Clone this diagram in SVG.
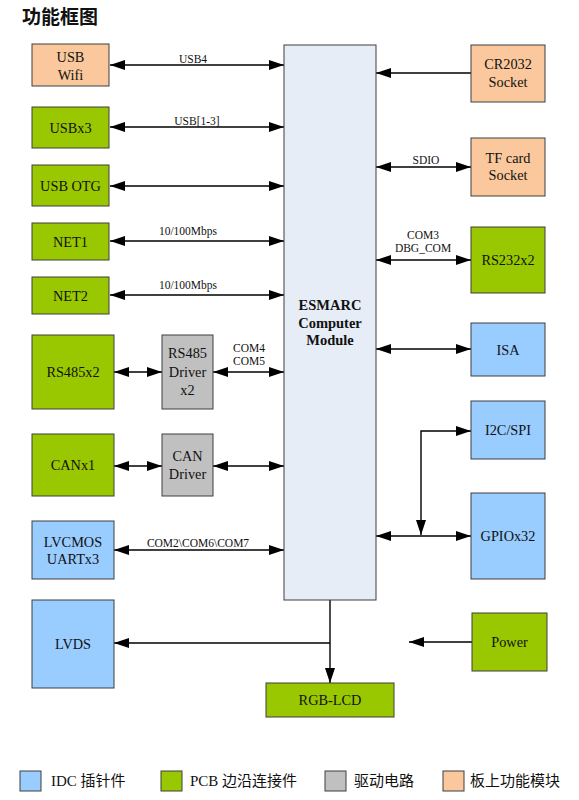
<svg xmlns="http://www.w3.org/2000/svg" width="579" height="800" viewBox="0 0 579 800">
<style>
.box{stroke:#3f3f3f;stroke-width:1}
.peach{fill:#fac89c}
.green{fill:#99c800}
.blue{fill:#99ccff}
.gray{fill:#c0c0c0}
.mod{fill:#e6edf7}
.t{font-family:"Liberation Serif","Times New Roman",serif;font-size:14.3px;fill:#111;text-anchor:middle}
.l{font-family:"Liberation Serif","Times New Roman",serif;font-size:11.5px;fill:#111;text-anchor:middle}
.b{font-family:"Liberation Serif","Times New Roman",serif;font-size:14.5px;font-weight:bold;fill:#111;text-anchor:middle}
.lg{font-family:"Liberation Serif","Noto Sans CJK SC",serif;font-size:15px;fill:#111}
.c{fill:none;stroke:#000;stroke-width:1.4}
</style>
<defs>
<marker id="ah" markerUnits="userSpaceOnUse" markerWidth="15" markerHeight="10" refX="15" refY="5" orient="auto-start-reverse" viewBox="0 0 15 10">
<path d="M0,0 L15,5 L0,10 z" fill="#000"/>
</marker>
</defs>
<rect width="579" height="800" fill="#fff"/>
<text x="22" y="24" font-family="'Noto Sans CJK SC',sans-serif" font-size="19" font-weight="bold" fill="#111">功能框图</text>

<g id="connectors">
<line class="c" x1="110" y1="65" x2="284" y2="65" marker-start="url(#ah)" marker-end="url(#ah)"/>
<line class="c" x1="110" y1="127" x2="284" y2="127" marker-start="url(#ah)" marker-end="url(#ah)"/>
<line class="c" x1="110" y1="186" x2="284" y2="186" marker-start="url(#ah)" marker-end="url(#ah)"/>
<line class="c" x1="110" y1="241" x2="284" y2="241" marker-start="url(#ah)" marker-end="url(#ah)"/>
<line class="c" x1="110" y1="295" x2="284" y2="295" marker-start="url(#ah)" marker-end="url(#ah)"/>
<line class="c" x1="114" y1="372" x2="162" y2="372" marker-start="url(#ah)" marker-end="url(#ah)"/>
<line class="c" x1="213" y1="372" x2="284" y2="372" marker-start="url(#ah)" marker-end="url(#ah)"/>
<line class="c" x1="114" y1="466" x2="162" y2="466" marker-start="url(#ah)" marker-end="url(#ah)"/>
<line class="c" x1="213" y1="466" x2="284" y2="466" marker-start="url(#ah)" marker-end="url(#ah)"/>
<line class="c" x1="114" y1="550" x2="284" y2="550" marker-start="url(#ah)" marker-end="url(#ah)"/>
<line class="c" x1="471" y1="73" x2="376" y2="73" marker-end="url(#ah)"/>
<line class="c" x1="376" y1="167" x2="471" y2="167" marker-start="url(#ah)" marker-end="url(#ah)"/>
<line class="c" x1="376" y1="260" x2="471" y2="260" marker-start="url(#ah)" marker-end="url(#ah)"/>
<line class="c" x1="376" y1="349" x2="471" y2="349" marker-start="url(#ah)" marker-end="url(#ah)"/>
<line class="c" x1="376" y1="536" x2="471" y2="536" marker-start="url(#ah)" marker-end="url(#ah)"/>
<path class="c" d="M421,535 L421,431 L471,431" marker-start="url(#ah)" marker-end="url(#ah)"/>
<path class="c" d="M330,600 L330,683" marker-end="url(#ah)"/>
<path class="c" d="M330,643 L114,643" marker-end="url(#ah)"/>
<line class="c" x1="472" y1="642" x2="409" y2="642" marker-end="url(#ah)"/>
<text class="l" x="193" y="63">USB4</text>
<text class="l" x="197" y="125">USB[1-3]</text>
<text class="l" x="188" y="235">10/100Mbps</text>
<text class="l" x="188" y="289">10/100Mbps</text>
<text class="l" x="249" y="352">COM4</text>
<text class="l" x="249" y="365">COM5</text>
<text class="l" x="198" y="547">COM2\COM6\COM7</text>
<text class="l" x="426" y="164">SDIO</text>
<text class="l" x="423" y="239">COM3</text>
<text class="l" x="423" y="252">DBG_COM</text>
</g>

<g id="module"><rect class="box mod" x="284" y="45" width="92" height="555"/>
<text class="b" x="330" y="310">ESMARC</text><text class="b" x="330" y="327.5">Computer</text><text class="b" x="330" y="345">Module</text></g>

<g id="usbwifi"><rect class="box peach" x="32" y="44" width="77" height="42"/><text class="t" x="70.5" y="62">USB</text><text class="t" x="70.5" y="80">Wifi</text></g>
<g id="usbx3"><rect class="box green" x="32" y="107" width="77" height="41"/><text class="t" x="70.5" y="132.5">USBx3</text></g>
<g id="usbotg"><rect class="box green" x="32" y="165" width="77" height="41"/><text class="t" x="70.5" y="190.5">USB OTG</text></g>
<g id="net1"><rect class="box green" x="32" y="223" width="77" height="37"/><text class="t" x="70.5" y="246.5">NET1</text></g>
<g id="net2"><rect class="box green" x="32" y="277" width="77" height="37"/><text class="t" x="70.5" y="300.5">NET2</text></g>
<g id="rs485"><rect class="box green" x="32" y="335" width="82" height="74"/><text class="t" x="73" y="377">RS485x2</text></g>
<g id="rs485drv"><rect class="box gray" x="162" y="335" width="51" height="74"/><text class="t" x="187.5" y="358">RS485</text><text class="t" x="187.5" y="377">Driver</text><text class="t" x="187.5" y="395">x2</text></g>
<g id="can"><rect class="box green" x="32" y="434" width="82" height="62"/><text class="t" x="73" y="470">CANx1</text></g>
<g id="candrv"><rect class="box gray" x="162" y="434" width="51" height="62"/><text class="t" x="187.5" y="461">CAN</text><text class="t" x="187.5" y="479">Driver</text></g>
<g id="lvcmos"><rect class="box blue" x="32" y="521" width="82" height="58"/><text class="t" x="73" y="546.5">LVCMOS</text><text class="t" x="73" y="564">UARTx3</text></g>
<g id="lvds"><rect class="box blue" x="32" y="600" width="82" height="88"/><text class="t" x="73" y="648.5">LVDS</text></g>
<g id="rgblcd"><rect class="box green" x="266" y="683" width="128" height="34"/><text class="t" x="330" y="705">RGB-LCD</text></g>
<g id="cr2032"><rect class="box peach" x="471" y="45" width="74" height="57"/><text class="t" x="508" y="69">CR2032</text><text class="t" x="508" y="87">Socket</text></g>
<g id="tfcard"><rect class="box peach" x="471" y="138" width="74" height="58"/><text class="t" x="508" y="163">TF card</text><text class="t" x="508" y="180">Socket</text></g>
<g id="rs232"><rect class="box green" x="471" y="227" width="74" height="66"/><text class="t" x="508" y="265">RS232x2</text></g>
<g id="isa"><rect class="box blue" x="471" y="323" width="74" height="53"/><text class="t" x="508" y="354.5">ISA</text></g>
<g id="i2cspi"><rect class="box blue" x="471" y="401" width="74" height="58"/><text class="t" x="508" y="435">I2C/SPI</text></g>
<g id="gpio"><rect class="box blue" x="471" y="493" width="74" height="86"/><text class="t" x="508" y="541">GPIOx32</text></g>
<g id="power"><rect class="box green" x="472" y="613" width="75" height="58"/><text class="t" x="509.5" y="647">Power</text></g>

<g id="legend">
<rect class="box blue" x="20" y="771" width="21" height="20"/><text class="lg" x="51" y="786">IDC 插针件</text>
<rect class="box green" x="161" y="771" width="21" height="20"/><text class="lg" x="190" y="786">PCB 边沿连接件</text>
<rect class="box gray" x="325" y="771" width="21" height="20"/><text class="lg" x="354" y="786">驱动电路</text>
<rect class="box peach" x="443" y="771" width="21" height="20"/><text class="lg" x="470" y="786">板上功能模块</text>
</g>
</svg>
